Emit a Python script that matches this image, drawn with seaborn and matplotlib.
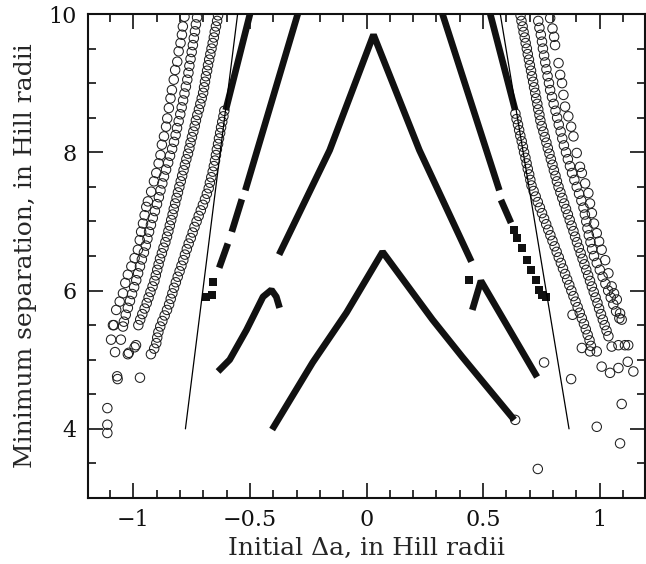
import matplotlib
matplotlib.use("Agg")
import matplotlib.pyplot as plt
from matplotlib.ticker import MultipleLocator
import seaborn as sns

# ---------------- data ----------------
# open-circle bands, left side
bandA_L_x = [-0.781, -0.788, -0.792, -0.798, -0.806, -0.812, -0.821, -0.827, -0.835, -0.841,
             -0.848, -0.855, -0.860, -0.869, -0.878, -0.884, -0.892, -0.902, -0.912, -0.924,
             -0.938, -0.945, -0.952, -0.959, -0.967, -0.973, -0.981, -0.995, -1.009, -1.024,
             -1.035, -1.045, -1.059, -1.074, -1.084]
bandA_L_y = [9.96, 9.82, 9.70, 9.58, 9.46, 9.31, 9.19, 9.05, 8.90, 8.78,
             8.64, 8.49, 8.37, 8.23, 8.11, 7.96, 7.84, 7.70, 7.58, 7.43,
             7.29, 7.21, 7.09, 6.97, 6.85, 6.73, 6.59, 6.47, 6.35, 6.23,
             6.11, 5.96, 5.84, 5.72, 5.50]

bandB_L_y = [9.95, 9.85, 9.75, 9.65, 9.55, 9.45, 9.35, 9.25, 9.15, 9.05, 8.95, 8.85, 8.75, 8.65, 8.55,
             8.45, 8.35, 8.25, 8.15, 8.05, 7.95, 7.85, 7.75, 7.65, 7.55, 7.45, 7.35, 7.25, 7.15, 7.05,
             6.95, 6.85, 6.75, 6.65, 6.55, 6.45, 6.35, 6.25, 6.15, 6.05, 5.95, 5.85, 5.75, 5.65, 5.55]
bandB_L_x = [-0.727, -0.732, -0.736, -0.741, -0.745, -0.750, -0.755, -0.760, -0.764, -0.769,
             -0.775, -0.781, -0.787, -0.793, -0.799, -0.806, -0.813, -0.819, -0.826, -0.834,
             -0.843, -0.851, -0.860, -0.869, -0.876, -0.884, -0.891, -0.899, -0.908, -0.917,
             -0.925, -0.933, -0.940, -0.947, -0.955, -0.964, -0.972, -0.980, -0.988, -0.997,
             -1.006, -1.015, -1.024, -1.033, -1.041]

bandC_L_y = [9.98, 9.90, 9.82, 9.74, 9.66, 9.58, 9.50, 9.42, 9.34, 9.26, 9.18, 9.10, 9.02, 8.94, 8.86,
             8.78, 8.70, 8.62, 8.54, 8.46, 8.38, 8.30, 8.22, 8.14, 8.06, 7.98, 7.90, 7.82, 7.74, 7.66,
             7.58, 7.50, 7.42, 7.34, 7.26, 7.18, 7.10, 7.02, 6.94, 6.86, 6.78, 6.70, 6.62, 6.54, 6.46,
             6.38, 6.30, 6.22, 6.14, 6.06, 5.98, 5.90, 5.82, 5.74, 5.66, 5.58, 5.50]
bandC_L_x = [-0.637, -0.641, -0.646, -0.651, -0.655, -0.660, -0.665, -0.670, -0.675, -0.680,
             -0.684, -0.689, -0.693, -0.697, -0.701, -0.707, -0.713, -0.719, -0.726, -0.732,
             -0.737, -0.743, -0.749, -0.755, -0.760, -0.766, -0.773, -0.779, -0.785, -0.791,
             -0.797, -0.803, -0.809, -0.815, -0.821, -0.827, -0.832, -0.838, -0.844, -0.850,
             -0.856, -0.863, -0.871, -0.878, -0.886, -0.892, -0.898, -0.904, -0.910, -0.918,
             -0.927, -0.935, -0.943, -0.952, -0.962, -0.971, -0.979]

bandD_L_y = [8.60, 8.52, 8.44, 8.36, 8.28, 8.20, 8.12, 8.04, 7.96, 7.88, 7.80, 7.72, 7.64, 7.56, 7.48,
             7.40, 7.32, 7.24, 7.16, 7.08, 7.00, 6.92, 6.84, 6.76, 6.68, 6.60, 6.52, 6.44, 6.36, 6.28,
             6.20, 6.12, 6.04, 5.96, 5.88, 5.80, 5.72, 5.64, 5.56, 5.48, 5.40, 5.32, 5.24, 5.16, 5.08]
bandD_L_x = [-0.610, -0.614, -0.619, -0.624, -0.628, -0.633, -0.637, -0.642, -0.646, -0.650,
             -0.655, -0.660, -0.666, -0.672, -0.677, -0.685, -0.693, -0.702, -0.711, -0.720,
             -0.729, -0.738, -0.746, -0.754, -0.763, -0.771, -0.779, -0.786, -0.794, -0.802,
             -0.810, -0.818, -0.826, -0.833, -0.840, -0.847, -0.856, -0.866, -0.876, -0.885,
             -0.893, -0.898, -0.902, -0.911, -0.925]

extra_L_x = [-1.088, -1.045, -1.096, -1.054, -1.079, -1.024, -1.020, -0.989, -0.995,
             -1.070, -1.068, -0.972, -1.112, -1.112, -1.112]
extra_L_y = [5.50, 5.48, 5.29, 5.29, 5.11, 5.08, 5.10, 5.21, 5.18,
             4.76, 4.72, 4.74, 4.30, 4.06, 3.94]

# open-circle bands, right side
bandA_R_x = [0.788, 0.798, 0.805, 0.809, 0.824, 0.831, 0.839, 0.845, 0.852, 0.866,
             0.878, 0.888, 0.902, 0.916, 0.924, 0.938, 0.952, 0.959, 0.967, 0.976,
             0.988, 0.998, 1.009, 1.024, 1.038, 1.052, 1.062, 1.074, 1.088, 1.095]
bandA_R_y = [9.94, 9.79, 9.67, 9.55, 9.29, 9.12, 9.00, 8.83, 8.66, 8.52,
             8.37, 8.23, 7.99, 7.79, 7.70, 7.55, 7.41, 7.26, 7.12, 6.97,
             6.83, 6.71, 6.59, 6.44, 6.25, 6.06, 5.96, 5.87, 5.67, 5.58]

bandB_R_y = [9.90, 9.80, 9.70, 9.60, 9.50, 9.40, 9.30, 9.20, 9.10, 9.00, 8.90, 8.80, 8.70, 8.60, 8.50,
             8.40, 8.30, 8.20, 8.10, 8.00, 7.90, 7.80, 7.70, 7.60, 7.50, 7.40, 7.30, 7.20, 7.10, 7.00,
             6.90, 6.80, 6.70, 6.60, 6.50, 6.40, 6.30, 6.20, 6.10, 6.00, 5.90, 5.80, 5.70, 5.60]
bandB_R_x = [0.737, 0.742, 0.748, 0.753, 0.757, 0.762, 0.767, 0.772, 0.777, 0.783,
             0.788, 0.796, 0.803, 0.811, 0.818, 0.825, 0.833, 0.840, 0.847, 0.856,
             0.864, 0.873, 0.882, 0.892, 0.902, 0.912, 0.922, 0.931, 0.937, 0.943,
             0.948, 0.954, 0.961, 0.968, 0.976, 0.988, 1.001, 1.013, 1.025, 1.037,
             1.048, 1.059, 1.071, 1.085]

bandC_R_y = [9.98, 9.90, 9.82, 9.74, 9.66, 9.58, 9.50, 9.42, 9.34, 9.26, 9.18, 9.10, 9.02, 8.94, 8.86,
             8.78, 8.70, 8.62, 8.54, 8.46, 8.38, 8.30, 8.22, 8.14, 8.06, 7.98, 7.90, 7.82, 7.74, 7.66,
             7.58, 7.50, 7.42, 7.34, 7.26, 7.18, 7.10, 7.02, 6.94, 6.86, 6.78, 6.70, 6.62, 6.54, 6.46,
             6.38, 6.30, 6.22, 6.14, 6.06, 5.98, 5.90, 5.82, 5.74, 5.66, 5.58, 5.50, 5.42, 5.34]
bandC_R_x = [0.661, 0.665, 0.670, 0.674, 0.679, 0.683, 0.688, 0.692, 0.697, 0.701,
             0.706, 0.710, 0.715, 0.719, 0.724, 0.728, 0.733, 0.737, 0.742, 0.746,
             0.752, 0.759, 0.765, 0.772, 0.778, 0.785, 0.791, 0.798, 0.804, 0.811,
             0.817, 0.824, 0.832, 0.840, 0.848, 0.856, 0.864, 0.872, 0.880, 0.888,
             0.895, 0.903, 0.911, 0.919, 0.927, 0.935, 0.943, 0.951, 0.959, 0.967,
             0.975, 0.983, 0.991, 0.998, 1.006, 1.014, 1.022, 1.030, 1.038]

bandD_R_y = [8.56, 8.48, 8.40, 8.32, 8.24, 8.16, 8.08, 8.00, 7.92, 7.84, 7.76, 7.68, 7.60, 7.52, 7.44,
             7.36, 7.28, 7.20, 7.12, 7.04, 6.96, 6.88, 6.80, 6.72, 6.64, 6.56, 6.48, 6.40, 6.32, 6.24,
             6.16, 6.08, 6.00, 5.92, 5.84, 5.76, 5.68, 5.60, 5.52, 5.44, 5.36, 5.28, 5.20]
bandD_R_x = [0.639, 0.644, 0.650, 0.655, 0.660, 0.666, 0.671, 0.676, 0.682, 0.687,
             0.692, 0.698, 0.703, 0.708, 0.717, 0.726, 0.735, 0.744, 0.753, 0.762,
             0.771, 0.780, 0.789, 0.798, 0.807, 0.816, 0.825, 0.834, 0.843, 0.852,
             0.861, 0.870, 0.879, 0.888, 0.897, 0.906, 0.915, 0.924, 0.933, 0.941,
             0.949, 0.957, 0.963]

extra_R_x = [1.052, 1.081, 1.109, 1.123, 1.009, 1.045, 1.081, 1.121, 1.145, 1.095,
             0.988, 1.088, 0.735, 0.762, 0.878, 0.638, 0.924, 0.959, 0.988, 0.884]
extra_R_y = [5.19, 5.21, 5.21, 5.21, 4.90, 4.81, 4.88, 4.97, 4.83, 4.36,
             4.03, 3.79, 3.42, 4.96, 4.72, 4.13, 5.17, 5.12, 5.12, 5.65]

# filled-square tracks (continuous runs)
lowV_x = [-0.405, -0.231, -0.086, 0.069, 0.283, 0.411, 0.634]
lowV_y = [3.99, 4.96, 5.68, 6.56, 5.58, 5.04, 4.13]
upV_x = [-0.375, -0.158, 0.03, 0.227, 0.45]
upV_y = [6.52, 8.03, 9.70, 8.03, 6.42]
hookL_x = [-0.637, -0.587, -0.515, -0.444, -0.408, -0.387, -0.373]
hookL_y = [4.83, 5.00, 5.43, 5.91, 6.01, 5.91, 5.75]
hookR_x = [0.454, 0.491, 0.732]
hookR_y = [5.72, 6.14, 4.75]
midL_a_x = [-0.295, -0.520]
midL_a_y = [10.0, 7.45]
midL_b_x = [-0.535, -0.578]
midL_b_y = [7.32, 6.85]
midL_c_x = [-0.595, -0.632]
midL_c_y = [6.68, 6.33]
midR_a_x = [0.326, 0.570]
midR_a_y = [10.0, 7.45]
midR_b_x = [0.577, 0.620]
midR_b_y = [7.31, 6.98]
outL_x = [-0.50, -0.604]
outL_y = [10.0, 8.61]
outR_x = [0.531, 0.638]
outR_y = [10.0, 8.61]
# isolated filled squares
sq_x = [-0.660, -0.690, -0.665, 0.441, 0.634, 0.647, 0.668, 0.690, 0.707, 0.728, 0.741, 0.755, 0.770]
sq_y = [6.13, 5.91, 5.94, 6.16, 6.88, 6.76, 6.62, 6.44, 6.30, 6.15, 6.01, 5.93, 5.91]

# thin straight lines
thinL_x = [-0.777, -0.553]
thinL_y = [4.0, 10.0]
thinR_x = [0.869, 0.574]
thinR_y = [4.0, 10.0]

# ---------------- drawing ----------------
sns.set_theme(style="ticks")
plt.rcParams["font.family"] = ["DejaVu Serif"]
plt.rcParams["axes.unicode_minus"] = True

fig = plt.figure(figsize=(6.46, 5.64), dpi=100)
ax = fig.add_axes([88 / 646, 66 / 564, 557 / 646, 484 / 564])

circ_kw = dict(marker="o", s=46, facecolors="none", edgecolor="#1e1e1e",
               linewidth=0.75, legend=False, ax=ax, zorder=3)
for bx, by in [(bandA_L_x, bandA_L_y), (bandB_L_x, bandB_L_y), (bandC_L_x, bandC_L_y),
               (bandD_L_x, bandD_L_y), (extra_L_x, extra_L_y),
               (bandA_R_x, bandA_R_y), (bandB_R_x, bandB_R_y), (bandC_R_x, bandC_R_y),
               (bandD_R_x, bandD_R_y), (extra_R_x, extra_R_y)]:
    sns.scatterplot(x=bx, y=by, **circ_kw)

line_kw = dict(sort=False, estimator=None, color="#111111", linewidth=4.8,
               ax=ax, legend=False, zorder=4)
for lx, ly in [(lowV_x, lowV_y), (upV_x, upV_y), (hookL_x, hookL_y), (hookR_x, hookR_y),
               (midL_a_x, midL_a_y), (midL_b_x, midL_b_y), (midL_c_x, midL_c_y),
               (midR_a_x, midR_a_y), (midR_b_x, midR_b_y), (outL_x, outL_y), (outR_x, outR_y)]:
    sns.lineplot(x=lx, y=ly, solid_capstyle="butt", solid_joinstyle="bevel", **line_kw)

sns.scatterplot(x=sq_x, y=sq_y, marker="s", s=30, color="#111111", linewidth=0,
                legend=False, ax=ax, zorder=4)

for lx, ly in [(thinL_x, thinL_y), (thinR_x, thinR_y)]:
    sns.lineplot(x=lx, y=ly, sort=False, estimator=None, color="black", linewidth=0.9,
                 ax=ax, legend=False, zorder=5)

ax.set_xlim(-1.195, 1.195)
ax.set_ylim(3, 10)
ax.xaxis.set_major_locator(MultipleLocator(0.5))
ax.xaxis.set_minor_locator(MultipleLocator(0.1))
ax.yaxis.set_major_locator(MultipleLocator(2))
ax.yaxis.set_minor_locator(MultipleLocator(0.5))
ax.set_xticks([-1, -0.5, 0, 0.5, 1])
ax.set_xticklabels(["\u22121", "\u22120.5", "0", "0.5", "1"])
ax.tick_params(which="both", direction="in", top=True, right=True, width=1.2,
               colors="#111111", labelsize=16, pad=8)
ax.tick_params(which="major", length=11)
ax.tick_params(which="minor", length=6)
for sp in ax.spines.values():
    sp.set_visible(True)
    sp.set_linewidth(1.5)
    sp.set_color("#111111")

ax.set_xlabel("Initial \u0394a, in Hill radii", fontsize=18, labelpad=4)
ax.set_ylabel("Minimum separation, in Hill radii", fontsize=18, labelpad=8)

fig.savefig("out.png", dpi=100)
